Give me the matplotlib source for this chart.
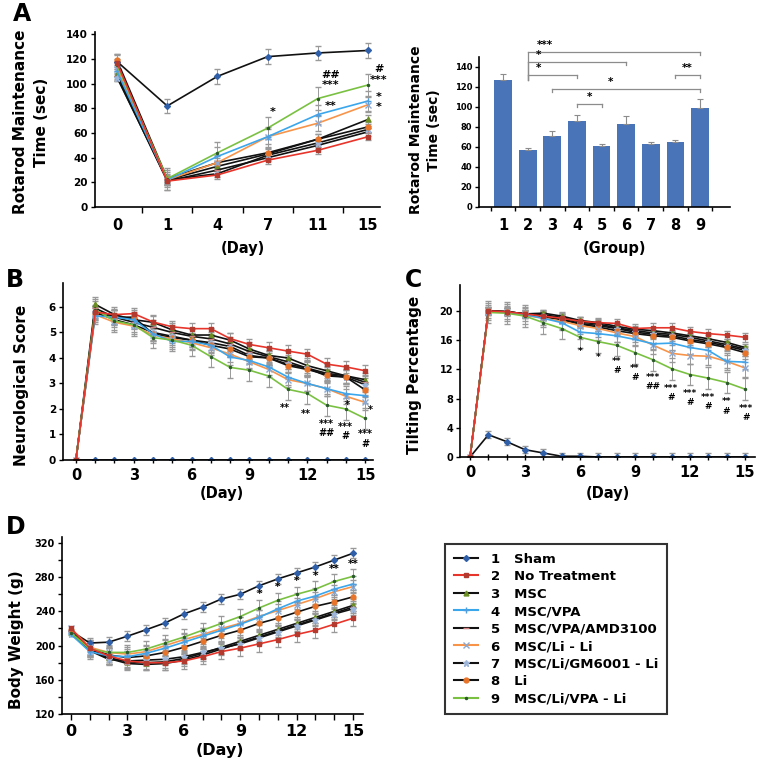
import matplotlib
matplotlib.use("Agg")
import matplotlib.pyplot as plt
from matplotlib.lines import Line2D
from matplotlib.ticker import MultipleLocator

plt.rcParams["font.family"] = "DejaVu Sans"
plt.rcParams["font.weight"] = "bold"

groups = ["Sham", "No Treatment", "MSC", "MSC/VPA", "MSC/VPA/AMD3100",
          "MSC/Li - Li", "MSC/Li/GM6001 - Li", "Li", "MSC/Li/VPA - Li"]
line_colors = ["#111111", "#e8352b", "#111111", "#3aa6ec", "#111111",
               "#f7944a", "#111111", "#111111", "#7ac142"]
marker_styles = ["D", "s", "^", "+", "_", "x", "*", "o", "."]
marker_colors = ["#2e5fa8", "#b23a2e", "#6b8e23", "#4f9fe0", "#d08080",
                 "#8da9d0", "#9db5d8", "#e8742a", "#2a5a2a"]
marker_sizes = [3, 3.5, 3.5, 5, 5, 4, 4.5, 3.5, 3]
draw_order = [0, 2, 4, 6, 7, 5, 3, 8, 1]

# ---- A: rotarod
rotarod_days = ["0", "1", "4", "7", "11", "15"]
rotarod = [
    [118, 82, 106, 122, 125, 127],
    [117, 21, 26, 38, 46, 57],
    [108, 22, 33, 43, 55, 71],
    [110, 22, 41, 57, 75, 86],
    [106, 21, 30, 40, 50, 61],
    [112, 22, 36, 57, 68, 83],
    [105, 22, 27, 42, 52, 63],
    [119, 23, 36, 44, 55, 65],
    [115, 23, 44, 64, 88, 99],
]
rotarod_err = [6, 3, 4, 8, 3, 6, 3, 4, 9]
rotarod_sig = [(3.1, 77, "*"), (4.25, 107, "##"), (4.25, 99, "***"), (4.25, 82, "**"),
               (5.22, 112, "#"), (5.22, 103, "***"), (5.22, 89, "*"), (5.22, 81, "*")]

bar_groups = ["1", "2", "3", "4", "5", "6", "7", "8", "9"]
bar_vals = [127, 57, 71, 86, 61, 83, 63, 65, 99]
bar_err = [6, 2, 5, 6, 2.5, 8, 2, 2.5, 9]
# (left group, right group, height, label, label x)
brackets = [(2, 9, 155, "***", 2.7), (2, 6, 145, "*", 2.45), (2, 4, 132, "*", 2.45),
            (8, 9, 132, "**", 8.5), (3, 9, 118, "*", 5.35), (4, 5, 103, "*", 4.5)]

# ---- B: neurological score
days = list(range(16))
neuro = [
    [0] * 16,
    [0, 5.8, 5.7, 5.74, 5.41, 5.22, 5.15, 5.15, 4.76, 4.53, 4.4, 4.27, 4.15, 3.76, 3.65, 3.5],
    [0, 6.1, 5.7, 5.5, 5.4, 5.1, 4.9, 4.9, 4.7, 4.35, 4.1, 4.0, 3.7, 3.5, 3.3, 3.15],
    [0, 5.65, 5.6, 5.5, 4.95, 4.65, 4.65, 4.5, 4.04, 3.9, 3.65, 3.25, 3.0, 2.8, 2.6, 2.52],
    [0, 5.95, 5.6, 5.4, 5.2, 5.0, 4.85, 4.75, 4.55, 4.25, 4.05, 3.85, 3.6, 3.4, 3.3, 3.05],
    [0, 5.7, 5.4, 5.25, 4.9, 4.75, 4.6, 4.4, 4.15, 3.85, 3.55, 3.15, 3.0, 2.8, 2.5, 2.26],
    [0, 5.8, 5.5, 5.3, 5.0, 4.85, 4.7, 4.6, 4.45, 4.1, 4.0, 3.75, 3.6, 3.3, 3.25, 2.95],
    [0, 5.75, 5.6, 5.6, 4.95, 4.8, 4.7, 4.5, 4.35, 4.05, 4.0, 3.7, 3.55, 3.35, 3.25, 2.75],
    [0, 5.9, 5.45, 5.3, 4.8, 4.7, 4.5, 4.05, 3.63, 3.52, 3.29, 2.77, 2.61, 2.15, 2.0, 1.63],
]
neuro_err = [0, 0.22, 0.28, 0.3, 0.28, 0.3, 0.28, 0.28, 0.42]
neuro_sig = [(10.85, 2.05, "**"), (11.9, 1.82, "**"), (13, 1.42, "***"), (13, 1.05, "##"),
             (14.1, 2.15, "*"), (14, 1.3, "***"), (14, 0.93, "#"),
             (15.25, 1.95, "*"), (15, 1.0, "***"), (15, 0.62, "#")]

# ---- C: tilting percentage
tilt = [
    [0, 3.05, 2.1, 1.0, 0.55, 0.1, 0.1, 0, 0, 0, 0, 0, 0, 0, 0, 0],
    [0, 20, 19.9, 19.6, 19.3, 19.0, 18.6, 18.4, 18.3, 17.6, 17.7, 17.7, 17.2, 16.9, 16.7, 16.4],
    [0, 20, 19.9, 19.6, 19.7, 19.3, 18.7, 18.4, 17.9, 17.5, 17.3, 17.0, 16.6, 16.2, 15.7, 15.0],
    [0, 19.9, 19.8, 19.5, 19.0, 18.4, 17.1, 16.9, 16.6, 16.1, 15.5, 15.6, 15.0, 14.6, 13.1, 13.0],
    [0, 20, 19.9, 19.6, 19.5, 19.1, 18.5, 18.2, 17.7, 17.3, 17.0, 16.8, 16.4, 15.9, 15.4, 14.8],
    [0, 19.9, 19.8, 19.4, 19.0, 18.6, 18.0, 17.6, 17.0, 16.5, 15.3, 14.2, 13.9, 13.8, 13.1, 12.2],
    [0, 20, 19.9, 19.6, 19.3, 18.9, 18.3, 18.0, 17.6, 17.1, 16.8, 16.6, 16.1, 15.7, 15.2, 14.6],
    [0, 20, 19.9, 19.6, 19.2, 18.8, 18.2, 17.8, 17.3, 16.9, 16.6, 16.4, 15.9, 15.5, 15.0, 14.3],
    [0, 19.8, 19.7, 19.3, 18.4, 17.6, 16.4, 15.8, 15.3, 14.3, 13.3, 12.1, 11.3, 10.8, 10.2, 9.3],
]
tilt_err = [0.5, 0.6, 0.45, 0.9, 0.45, 1.2, 0.5, 0.5, 1.5]
tilt_sig = [(6, 14.4, "*"), (7, 13.6, "*"), (8, 13.1, "**"), (8, 11.8, "#"),
            (9, 12.1, "**"), (9, 10.9, "#"), (10, 10.9, "***"), (10, 9.6, "##"),
            (10.95, 9.4, "***"), (10.95, 8.1, "#"), (12, 8.7, "***"), (12, 7.4, "#"),
            (13, 8.2, "***"), (13, 6.9, "#"), (14, 7.6, "**"), (14, 6.3, "#"),
            (15.05, 6.7, "***"), (15.05, 5.4, "#")]

# ---- D: body weight
weight = [
    [217, 203, 204, 211, 218.6, 226.5, 237, 245, 254.5, 260, 270, 278, 285, 292, 300, 308],
    [220, 197, 188, 182, 180, 180, 182, 187, 193, 197, 202, 207, 213, 218, 225, 232],
    [215, 196, 186, 181, 180, 181, 185, 191, 198, 205, 212, 219, 226, 233, 240, 247],
    [213, 193, 188, 187, 191, 197, 204, 211, 218, 225, 233, 243, 252, 258, 266, 272],
    [217, 195, 185, 179, 178, 179, 183, 189, 196, 203, 210, 217, 224, 231, 238, 245],
    [220, 198, 192, 190, 193, 200, 207, 213, 220, 226, 234, 241, 248, 255, 263, 269],
    [214, 194, 184, 182, 183, 184, 187, 192, 197, 202, 209, 216, 223, 230, 237, 243],
    [218, 197, 189, 186, 188, 192, 198, 205, 212, 218, 226, 232, 239, 246, 251, 257],
    [215, 196, 192, 192, 196, 203, 210, 218, 226, 234, 244, 253, 260, 266, 275, 281],
]
weight_err = [6, 9, 7, 9, 7, 8, 7, 8, 9]
weight_sig = [(10, 260, "*"), (11, 268, "*"), (12, 275, "*"), (13, 281, "*"),
              (14, 289, "**"), (15, 296, "**")]

W, H = 762, 765


def rect(l, t, r, b):
    return [l / W, 1 - b / H, (r - l) / W, (b - t) / H]


def style(ax):
    for s in ["top", "right"]:
        ax.spines[s].set_visible(False)
    for s in ["left", "bottom"]:
        ax.spines[s].set_linewidth(1.2)
    ax.tick_params(which="both", direction="out", width=1.0, length=3, pad=2)


def draw_lines(ax, x, data, err, every=(1, 1)):
    for i in draw_order:
        ax.errorbar(x, data[i], yerr=err[i], color=line_colors[i], lw=1.2,
                    marker=marker_styles[i], ms=marker_sizes[i],
                    mfc=marker_colors[i], mec=marker_colors[i], mew=1,
                    ecolor="#999999", elinewidth=0.7, capsize=2, capthick=0.7,
                    errorevery=every)


def sig(ax, items, size=7.5):
    for x, y, t in items:
        ax.text(x, y, t, ha="center", va="center", fontsize=size, fontweight="bold")


fig = plt.figure(figsize=(W / 100, H / 100), dpi=100)

# A left
axA = fig.add_axes(rect(95, 32, 380, 207))
style(axA)
xa = list(range(len(rotarod_days)))
draw_lines(axA, xa, rotarod, rotarod_err, every=1)
axA.set_xlim(-0.44, 5.24)
axA.set_ylim(0, 142)
axA.set_yticks(range(0, 141, 20))
axA.set_xticks(xa)
axA.set_xticklabels(rotarod_days)
axA.set_xticks([v + 0.5 for v in xa[:-1]], minor=True)
axA.tick_params(axis="x", which="major", length=0, labelsize=10.5, pad=8)
axA.tick_params(axis="x", which="minor", length=4)
axA.tick_params(axis="y", labelsize=7.5)
sig(axA, rotarod_sig, 8)

# A right (bars)
axA2 = fig.add_axes(rect(479, 57, 730, 207))
style(axA2)
xb = list(range(1, len(bar_groups) + 1))
axA2.bar(xb, bar_vals, width=0.72, color="#4a74b8",
         yerr=[[0] * len(bar_err), bar_err], ecolor="#8c8c8c",
         error_kw=dict(elinewidth=0.8, capsize=2.5, capthick=0.8))
axA2.set_xlim(0.02, 10.22)
axA2.set_ylim(0, 150)
axA2.set_yticks(range(0, 141, 20))
axA2.set_xticks(xb)
axA2.set_xticklabels(bar_groups)
axA2.set_xticks([v + 0.5 for v in range(0, 10)], minor=True)
axA2.tick_params(axis="x", which="major", length=0, labelsize=10.5, pad=8)
axA2.tick_params(axis="x", which="minor", length=3)
axA2.tick_params(axis="y", labelsize=6)
for x1, x2, y, t, tx in brackets:
    kw = dict(color="#8c8c8c", lw=0.9, clip_on=False)
    axA2.plot([x1, x2], [y, y], **kw)
    axA2.plot([x2, x2], [y, y - 3], **kw)
    if x1 == 2:
        axA2.plot([x1, x1], [y, 127], **kw)
    else:
        axA2.plot([x1, x1], [y, y - 3], **kw)
    axA2.text(tx, y + 2, t, ha="center", va="bottom", fontsize=7.5,
              fontweight="bold", clip_on=False)

# B
axB = fig.add_axes(rect(63, 283, 373, 460))
style(axB)
draw_lines(axB, days, neuro, neuro_err)
axB.set_xlim(-0.67, 15.41)
axB.set_ylim(0, 6.94)
axB.set_yticks(range(0, 7))
axB.xaxis.set_major_locator(MultipleLocator(3))
axB.xaxis.set_minor_locator(MultipleLocator(1))
axB.tick_params(axis="x", which="both", direction="inout", length=4, labelsize=10.5, pad=4)
axB.tick_params(axis="y", labelsize=7.5)
sig(axB, neuro_sig, 7)

# C
axC = fig.add_axes(rect(460, 285, 755, 457))
style(axC)
draw_lines(axC, days, tilt, tilt_err)
axC.set_xlim(-0.55, 15.55)
axC.set_ylim(0, 23.56)
axC.set_yticks(range(0, 21, 4))
axC.xaxis.set_major_locator(MultipleLocator(3))
axC.xaxis.set_minor_locator(MultipleLocator(1))
axC.tick_params(axis="x", which="both", direction="inout", length=4, labelsize=10.5, pad=4)
axC.tick_params(axis="y", labelsize=7)
sig(axC, tilt_sig, 6.5)

# D
axD = fig.add_axes(rect(62, 537, 363, 714))
style(axD)
draw_lines(axD, days, weight, weight_err)
axD.set_xlim(-0.48, 15.53)
axD.set_ylim(120, 327)
axD.yaxis.set_major_locator(MultipleLocator(40))
axD.yaxis.set_minor_locator(MultipleLocator(20))
axD.xaxis.set_major_locator(MultipleLocator(3))
axD.xaxis.set_minor_locator(MultipleLocator(1))
axD.tick_params(axis="x", which="both", length=4, labelsize=11.5, pad=3)
axD.tick_params(axis="y", labelsize=7)
sig(axD, weight_sig)


def ftext(x, y, s, size, rot=0, **kw):
    fig.text(x / W, 1 - y / H, s, fontsize=size, fontweight="bold", rotation=rot,
             ha="center", va="center", **kw)


# panel letters
ftext(22, 14, "A", 17)
ftext(15, 280, "B", 17)
ftext(414, 280, "C", 17)
ftext(16, 527, "D", 17)

# axis labels
ftext(31, 122, "Rotarod Maintenance\nTime (sec)", 11, rot=90, linespacing=1.55)
ftext(425, 130, "Rotarod Maintenance\nTime (sec)", 10, rot=90, linespacing=1.4)
ftext(243, 249, "(Day)", 10.5)
ftext(615, 249, "(Group)", 10.5)
ftext(22, 385, "Neurological Score", 11, rot=90)
ftext(415, 375, "Tilting Percentage", 11, rot=90)
ftext(222, 493, "(Day)", 10.5)
ftext(608, 493, "(Day)", 10.5)
ftext(17, 640, "Body Weight (g)", 11, rot=90)
ftext(220, 751, "(Day)", 11.5)

# legend
handles = [Line2D([0], [0], color=line_colors[i], lw=1.5, marker=marker_styles[i],
                  ms=marker_sizes[i], mfc=marker_colors[i], mec=marker_colors[i])
           for i in range(len(groups))]
labels = [f"{i + 1}   {g}" for i, g in enumerate(groups)]
leg = fig.legend(handles, labels, loc="upper left", bbox_to_anchor=(445 / W, 1 - 544 / H),
                 borderaxespad=0, frameon=True, fancybox=False, edgecolor="black",
                 prop={"weight": "bold", "size": 9.5}, handlelength=1.85,
                 labelspacing=0.34, borderpad=0.65, handletextpad=1.0, numpoints=1)
leg.get_frame().set_linewidth(1.5)

fig.savefig("out.png", dpi=100)
